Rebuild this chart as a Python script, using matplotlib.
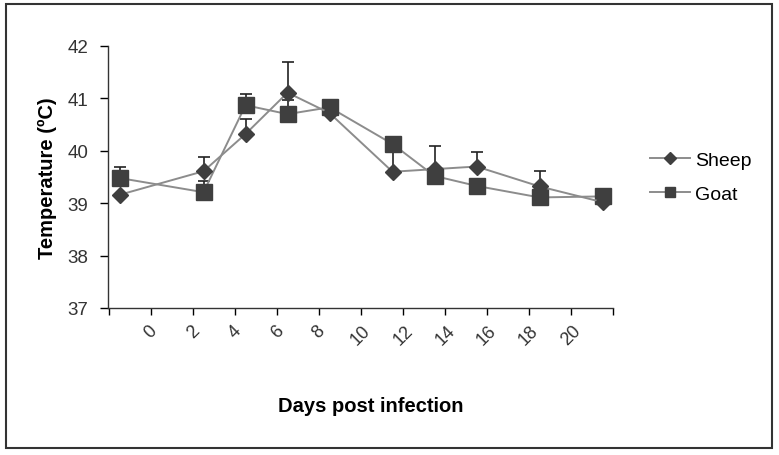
import matplotlib.pyplot as plt
from matplotlib.patches import Rectangle
from matplotlib.transforms import ScaledTranslation

plt.rcParams["font.family"] = ["Liberation Sans", "DejaVu Sans"]

# Data
days = [-1.5, 2.5, 4.5, 6.5, 8.5, 11.5, 13.5, 15.5, 18.5, 21.5]
sheep = [39.16, 39.61, 40.32, 41.11, 40.72, 39.60, 39.65, 39.70, 39.32, 39.02]
goat = [39.48, 39.21, 40.87, 40.70, 40.83, 40.13, 39.52, 39.33, 39.11, 39.13]
sheep_err = [0, 0.28, 0.29, 0.59, 0, 0.45, 0.44, 0.27, 0.29, 0]
goat_err = [0.22, 0.22, 0.21, 0.27, 0.14, 0, 0, 0, 0, 0]
tick_days = [0, 2, 4, 6, 8, 10, 12, 14, 16, 18, 20]
yticks = [37, 38, 39, 40, 41, 42]

fig = plt.figure(figsize=(7.79, 4.56), dpi=100)
ax = fig.add_axes([108 / 779, 1 - 309 / 456, (613 - 108) / 779, (309 - 47) / 456])

line_c = "#8c8c8c"
mark_c = "#3f3f3f"

for vals, errs in [(goat, goat_err), (sheep, sheep_err)]:
    ax.errorbar(days, vals, yerr=[[0] * len(errs), errs], fmt="none",
                ecolor="#222222", elinewidth=1.2, capsize=4, capthick=1.2, zorder=2)

ax.plot(days, goat, color=line_c, lw=1.4, marker="s", ms=11,
        mfc=mark_c, mec=mark_c, zorder=3, label="Goat")
ax.plot(days, sheep, color=line_c, lw=1.4, marker="D", ms=8.5,
        mfc=mark_c, mec=mark_c, zorder=4, label="Sheep")

ax.set_xlim(-2.05, 22.0)
ax.set_ylim(37, 42)
ax.set_xticks([-2] + tick_days + [22])
ax.set_xticklabels([""] + [str(d) for d in tick_days] + [""], rotation=45,
                   ha="center", fontsize=13, color="#333333")
shift = ScaledTranslation(6 / 100, -5 / 100, fig.dpi_scale_trans)
for lbl in ax.get_xticklabels():
    lbl.set_transform(lbl.get_transform() + shift)
ax.set_yticks(yticks)
ax.set_yticklabels([str(v) for v in yticks], fontsize=13.5, color="#333333")
ax.tick_params(axis="x", direction="out", length=5, width=1, pad=5)
ax.tick_params(axis="y", direction="out", length=6, width=1, pad=8)
for s in ["top", "right"]:
    ax.spines[s].set_visible(False)
for s in ["left", "bottom"]:
    ax.spines[s].set_color("#333333")
    ax.spines[s].set_linewidth(1)

ax.set_ylabel("Temperature (\u00baC)", fontsize=14.5, fontweight="bold", labelpad=8)
fig.text(371 / 779, 1 - 407 / 456, "Days post infection", fontsize=14.5,
         fontweight="bold", ha="center", va="center")

handles, labels = ax.get_legend_handles_labels()
ax.legend(handles[::-1], labels[::-1], loc="center left",
          bbox_to_anchor=(650 / 779, 1 - 178 / 456), bbox_transform=fig.transFigure,
          frameon=False, fontsize=14, handlelength=2.05, labelspacing=0.85,
          markerscale=0.7, handletextpad=0.25, borderpad=0, borderaxespad=0)

fig.patches.append(Rectangle((6 / 779, 1 - 449 / 456), (772 - 6) / 779, (449 - 5) / 456,
                             transform=fig.transFigure, fill=False,
                             edgecolor="#333333", lw=1.5))

fig.savefig("out.png", dpi=100)
